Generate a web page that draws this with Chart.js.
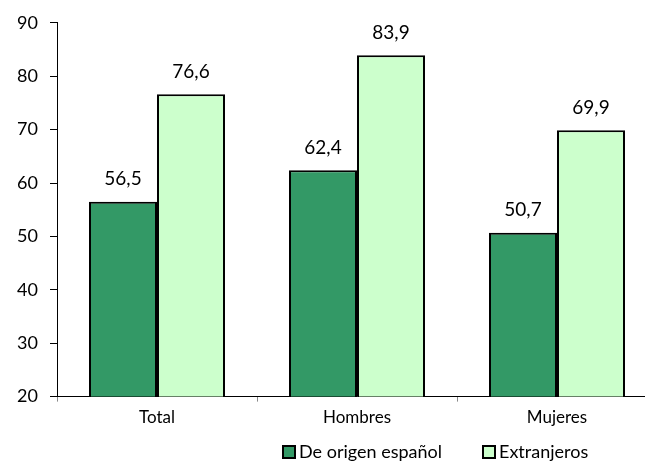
<!DOCTYPE html>
<html>
<head>
<meta charset="utf-8">
<script src="https://cdn.jsdelivr.net/npm/chart.js@4"></script>
<style>
  html, body { margin: 0; padding: 0; background: #fff; overflow: hidden; }
  #wrap { position: relative; width: 645px; height: 461px; overflow: hidden; }
  #box { position: absolute; left: 0; top: 0; width: 662px; height: 461px; }
  #legend { position: absolute; left: 282px; top: 440px; font-family: Lato, "Open Sans", sans-serif; font-size: 18px; color: #000; white-space: nowrap; }
  #legend span.sw { display: inline-block; width: 10px; height: 10px; border: 2px solid #000; vertical-align: -1px; margin-right: 3px; }
  #legend span.item { display: inline-block; }
  #legend span.item:first-child { width: 200px; }
</style>
</head>
<body>
<div id="wrap">
  <div id="box"><canvas id="chart"></canvas></div>
  <div id="legend"></div>
</div>
<script>
const categories = ["Total", "Hombres", "Mujeres"];
const seriesNames = ["De origen español", "Extranjeros"];
const espanol = [56.5, 62.4, 50.7];
const extranjeros = [76.6, 83.9, 69.9];
const yTicks = [20, 30, 40, 50, 60, 70, 80, 90];
const colors = ["#339966", "#CCFFCC"];

const legendDiv = document.getElementById("legend");
legendDiv.innerHTML = seriesNames.map((n, i) =>
    `<span class="item"><span class="sw" style="background:${colors[i]}"></span>${n}</span>`
).join("");

const valueLabels = {
    id: "valueLabels",
    afterDatasetsDraw(chart) {
        const ctx = chart.ctx;
        ctx.save();
        ctx.font = "19px Lato, 'Open Sans', sans-serif";
        ctx.fillStyle = "#000";
        ctx.textAlign = "center";
        ctx.textBaseline = "bottom";
        chart.data.datasets.forEach((ds, i) => {
            chart.getDatasetMeta(i).data.forEach((bar, j) => {
                ctx.fillText(ds.data[j].toFixed(1).replace(".", ","), bar.x, bar.y - 13);
            });
        });
        ctx.restore();
    }
};

const ctx = document.getElementById("chart").getContext("2d");
new Chart(ctx, {
    type: "bar",
    data: {
        labels: categories,
        datasets: [
            { label: seriesNames[0], data: espanol, backgroundColor: colors[0], borderColor: "#000", borderWidth: 2 },
            { label: seriesNames[1], data: extranjeros, backgroundColor: colors[1], borderColor: "#000", borderWidth: 2 }
        ]
    },
    options: {
        responsive: true,
        maintainAspectRatio: false,
        animation: false,
        datasets: { bar: { categoryPercentage: 0.68, barPercentage: 1 } },
        layout: { padding: { top: 17, right: 5, bottom: 27, left: 0 } },
        plugins: { legend: { display: false }, tooltip: { enabled: false } },
        scales: {
            x: {
                grid: { offset: true, drawOnChartArea: false, tickLength: 5, tickColor: "#888" },
                border: { color: "#000", width: 1 },
                ticks: { color: "#000", padding: 6, font: { family: "Lato, 'Open Sans', sans-serif", size: 17 } }
            },
            y: {
                min: 20,
                max: 90,
                afterFit(scale) { scale.width = 57; },
                afterBuildTicks(scale) { scale.ticks = yTicks.map(v => ({ value: v })); },
                grid: { drawOnChartArea: false, tickLength: 7, tickColor: "#000" },
                border: { color: "#000", width: 1 },
                ticks: { color: "#000", padding: 12, font: { family: "Lato, 'Open Sans', sans-serif", size: 18 } }
            }
        }
    },
    plugins: [valueLabels]
});
</script>
</body>
</html>
